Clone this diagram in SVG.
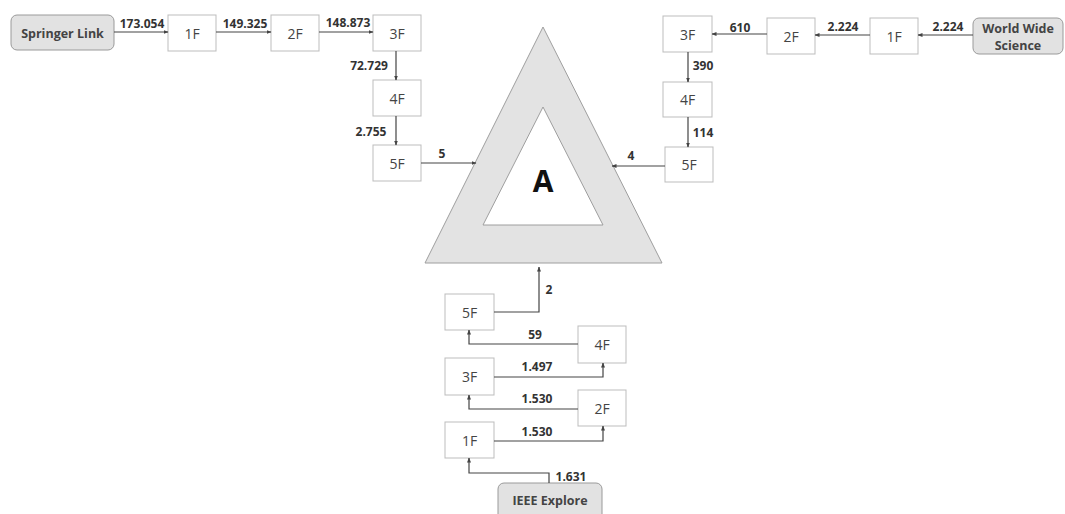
<svg xmlns="http://www.w3.org/2000/svg" width="1065" height="514" viewBox="0 0 1065 514">
<style>
.box{fill:#fff;stroke:#bdbdbd;stroke-width:1}
.src{fill:#e2e2e2;stroke:#9a9a9a;stroke-width:1}
.bt{font-family:"Open Sans","Liberation Sans",sans-serif;font-size:14px;fill:#444;text-anchor:middle;dominant-baseline:central}
.st{font-family:"Open Sans","Liberation Sans",sans-serif;font-size:12.5px;font-weight:bold;fill:#444;text-anchor:middle;dominant-baseline:central}
.lb{font-family:"Open Sans","Liberation Sans",sans-serif;font-size:12px;font-weight:bold;fill:#333;text-anchor:middle}
.c{fill:none;stroke:#444;stroke-width:1.2;marker-end:url(#ah)}
</style>
<defs>
<marker id="ah" viewBox="0 0 10 10" refX="9" refY="5" markerWidth="5" markerHeight="5" orient="auto" markerUnits="userSpaceOnUse">
<path d="M0,1 L10,5 L0,9 z" fill="#444"/>
</marker>
</defs>
<rect width="1065" height="514" fill="#fff"/>
<g id="target">
<polygon points="543,27 425,263 662,263" fill="#e3e3e3" stroke="#9e9e9e" stroke-width="1"/>
<polygon points="543,107 483,225 603,225" fill="#fff" stroke="#9e9e9e" stroke-width="1"/>
<text x="543" y="180" font-family="Open Sans,Liberation Sans,sans-serif" font-size="30" font-weight="bold" fill="#111" text-anchor="middle" dominant-baseline="central">A</text>
</g>
<g id="springer">
<rect class="src" x="11" y="15" width="103" height="35" rx="6"/>
<text class="st" x="62.5" y="33">Springer Link</text>
</g>
<g id="s1"><rect class="box" x="168" y="15" width="48" height="36"/><text class="bt" x="192" y="33">1F</text></g>
<g id="s2"><rect class="box" x="271" y="15" width="48" height="36"/><text class="bt" x="295" y="33">2F</text></g>
<g id="s3"><rect class="box" x="373" y="15" width="48" height="36"/><text class="bt" x="397" y="33">3F</text></g>
<g id="s4"><rect class="box" x="373" y="80" width="48" height="36"/><text class="bt" x="397" y="98">4F</text></g>
<g id="s5"><rect class="box" x="373" y="145" width="48" height="36"/><text class="bt" x="397" y="163">5F</text></g>
<g id="wws">
<rect class="src" x="973" y="18" width="90" height="36" rx="6"/>
<text class="st" x="1018" y="28">World Wide</text>
<text class="st" x="1018" y="45">Science</text>
</g>
<g id="w1"><rect class="box" x="870" y="18" width="48" height="36"/><text class="bt" x="894" y="36">1F</text></g>
<g id="w2"><rect class="box" x="767" y="18" width="48" height="36"/><text class="bt" x="791" y="36">2F</text></g>
<g id="w3"><rect class="box" x="663" y="16" width="49" height="36"/><text class="bt" x="687.5" y="34">3F</text></g>
<g id="w4"><rect class="box" x="663" y="82" width="49" height="35"/><text class="bt" x="687.5" y="99.5">4F</text></g>
<g id="w5"><rect class="box" x="665" y="147" width="48" height="35"/><text class="bt" x="689" y="164.5">5F</text></g>
<g id="ieee">
<rect class="src" x="498" y="483" width="104" height="40" rx="6"/>
<text class="st" x="550" y="500">IEEE Explore</text>
</g>
<g id="i1"><rect class="box" x="445" y="422" width="49" height="36"/><text class="bt" x="469.5" y="440">1F</text></g>
<g id="i2"><rect class="box" x="578" y="390" width="48" height="36"/><text class="bt" x="602" y="408">2F</text></g>
<g id="i3"><rect class="box" x="445" y="358" width="49" height="37"/><text class="bt" x="469.5" y="376.5">3F</text></g>
<g id="i4"><rect class="box" x="578" y="326" width="48" height="37"/><text class="bt" x="602" y="344.5">4F</text></g>
<g id="i5"><rect class="box" x="445" y="294" width="49" height="36"/><text class="bt" x="469.5" y="312">5F</text></g>
<g id="connectors">
<path class="c" d="M114,32 H168"/>
<path class="c" d="M216,32 H271"/>
<path class="c" d="M319,32 H373"/>
<path class="c" d="M396,51 V80"/>
<path class="c" d="M396,116 V145"/>
<path class="c" d="M421,163 H476"/>
<path class="c" d="M973,35 H918"/>
<path class="c" d="M870,35 H815"/>
<path class="c" d="M767,34 H712"/>
<path class="c" d="M688,52 V82"/>
<path class="c" d="M688,117 V147"/>
<path class="c" d="M665,166 H612"/>
<path class="c" d="M549,483 V473 H469 V458"/>
<path class="c" d="M494,441 H603 V426"/>
<path class="c" d="M578,409 H469 V395"/>
<path class="c" d="M494,377 H603 V363"/>
<path class="c" d="M578,344 H469 V330"/>
<path class="c" d="M494,312 H539 V267"/>
</g>
<g id="labels">
<text class="lb" x="142" y="28">173.054</text>
<text class="lb" x="245" y="28">149.325</text>
<text class="lb" x="348" y="27">148.873</text>
<text class="lb" x="369" y="70">72.729</text>
<text class="lb" x="371" y="136">2.755</text>
<text class="lb" x="442" y="158">5</text>
<text class="lb" x="948" y="31">2.224</text>
<text class="lb" x="843" y="31">2.224</text>
<text class="lb" x="740" y="32">610</text>
<text class="lb" x="703" y="70">390</text>
<text class="lb" x="703" y="137">114</text>
<text class="lb" x="631" y="160">4</text>
<text class="lb" x="549" y="294">2</text>
<text class="lb" x="535" y="339">59</text>
<text class="lb" x="537" y="371">1.497</text>
<text class="lb" x="537" y="403">1.530</text>
<text class="lb" x="537" y="436">1.530</text>
<text class="lb" x="571" y="481">1.631</text>
</g>
</svg>
